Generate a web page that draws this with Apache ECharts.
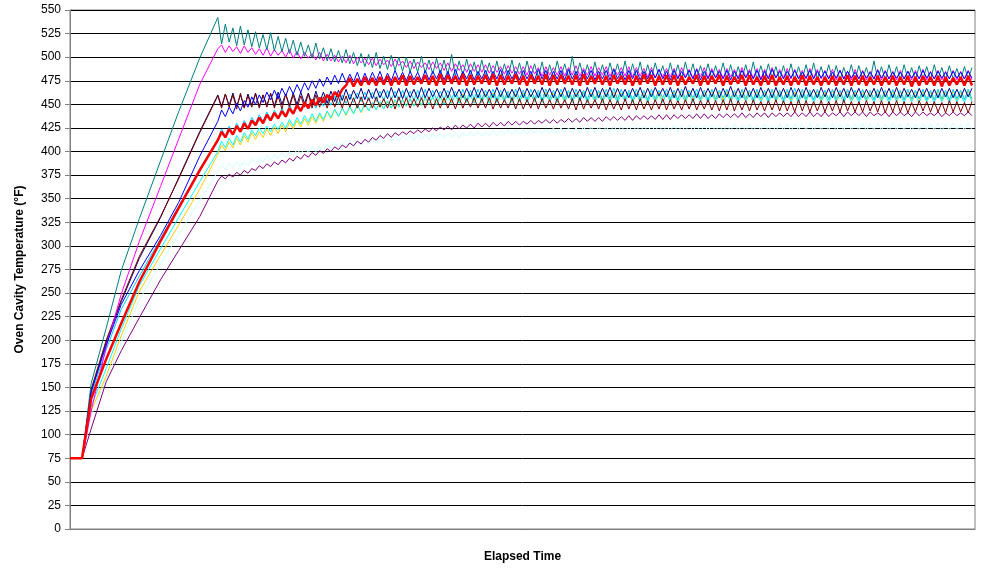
<html>
<head>
    <meta charset="UTF-8">
    <title>Oven Cavity Temperature</title>
    <style>
        body { margin: 0; background: #fff; }
    </style>
    <script src="https://cdn.jsdelivr.net/npm/echarts@6/dist/echarts.min.js"></script>
</head>
<body>
<div id="main" style="width: 981px;height:569px;"></div>
<script>
// time base: rise readings, then the cycling part read every half cycle
var riseTime = [0, 4, 7, 12, 17, 23, 30, 36, 43];
var cycleStart = 49;
var cycleStep = 1.25;

// preheat ramp (deg F) for each curve
var riseTeal     = [75, 75, 154, 213, 274, 329, 390, 442, 499];
var riseMagenta  = [75, 75, 125, 193, 249, 305, 363, 413, 471];
var riseMaroon   = [75, 75, 148, 200, 243, 289, 331, 371, 420];
var riseNavy     = [75, 75, 146, 198, 241, 287, 330, 372, 421];
var riseBlue     = [75, 75, 145, 195, 238, 274, 311, 346, 395];
var riseSky      = [75, 75, 142, 190, 233, 268, 308, 342, 382];
var riseRed      = [75, 75, 138, 180, 218, 262, 305, 340, 380];
var riseCyan     = [75, 75, 130, 170, 212, 258, 297, 330, 368];
var riseGold     = [75, 75, 125, 162, 205, 252, 290, 322, 360];
var riseLtCyan   = [75, 75, 120, 158, 198, 243, 281, 312, 348];
var risePurple   = [75, 75, 106, 156, 189, 224, 264, 295, 331];

// thermostat cycling after the ramp
var cycTeal = [
 542,514,535,516,531,512,533,513,529,511, 527,510,524,508,526,507,522,506,520,504,
 518,502,516,501,513,499,515,498,510,496, 509,495,507,494,508,493,505,491,504,490,
 503,489,505,488,501,487,502,486,500,485, 500,484,498,484,501,483,497,482,499,482,
 497,481,503,480,496,481,498,480,495,479, 497,480,494,479,496,478,493,480,497,479,
 494,478,496,479,493,478,495,477,492,478, 496,479,493,478,501,479,494,478,492,477,
 495,478,492,477,494,479,493,478,496,477, 493,478,495,477,492,478,494,479,491,477,
 494,478,492,477,495,478,493,477,491,478, 493,477,491,478,494,477,492,476,490,477,
 492,477,495,476,491,477,493,478,490,476, 491,477,493,476,490,477,492,476,494,477,
 490,476,492,477,491,476,489,477,492,476, 491,477,489,476,496,477,490,476,492,477,
 490,476,492,477,489,476,491,477,490,476, 492,477,489,476,491,477,488,476,490,477,
 489];
var cycMagenta = [
 509,513,505,512,506,511,504,512,505,510, 503,509,502,510,501,508,502,507,500,508,
 499,506,498,505,499,504,497,505,496,503, 496,502,495,501,494,502,493,500,494,499,
 492,499,491,498,492,497,490,498,491,496, 489,496,488,495,489,494,487,495,488,494,
 486,494,485,493,486,492,484,493,485,492, 484,492,483,491,484,490,482,491,483,490,
 482,490,481,491,482,489,480,490,481,489, 481,490,480,489,481,491,480,488,481,490,
 480,489,481,490,480,488,481,489,480,490, 479,489,480,488,479,489,478,487,479,488,
 479,488,478,489,479,487,478,488,479,489, 478,488,479,487,478,488,479,487,478,489,
 479,487,478,488,477,487,478,489,478,487, 478,488,477,487,478,486,477,488,478,487,
 477,486,478,487,476,486,477,485,476,487, 477,486,476,485,477,487,476,486,477,485,
 476,486,477,485,476,486,477,487,476,485, 477,486,476,485,477,486,476,485,477,486,
 476];
var cycMaroon = [
 459,446,461,447,460,445,462,446,459,447, 461,446,460,447,462,446,459,445,461,447,
 460,446,459,447,461,446,460,447,458,446, 459,447,458,446,459,447,457,446,458,447,
 457,446,458,447,456,446,457,445,458,446, 457,446,456,447,457,446,458,445,456,446,
 457,446,456,445,457,446,456,447,457,446, 456,446,457,445,456,446,455,446,457,445,
 456,445,455,446,457,445,456,446,455,445, 456,446,455,445,456,444,457,445,455,446,
 455,445,456,444,455,445,454,444,456,445, 455,444,456,445,454,444,455,445,456,444,
 455,445,454,444,455,445,456,444,454,445, 455,444,454,443,455,444,456,443,454,444,
 454,443,455,444,453,443,454,444,455,443, 454,443,453,442,455,443,454,442,453,443,
 454,442,453,443,454,442,455,443,453,442, 453,442,454,443,453,442,454,441,453,442,
 454,442,453,441,452,442,454,443,453,442, 453,442,452,441,454,442,453,442,452,441,
 453];
var cycNavy = [
 460,448,461,449,462,448,460,447,461,449, 462,448,460,449,461,448,463,450,461,449,
 462,450,463,451,462,450,464,452,463,451, 464,453,465,454,466,455,465,456,467,455,
 466,456,467,457,466,456,468,457,467,456, 467,457,466,456,468,457,467,458,466,457,
 467,457,468,458,466,457,467,458,468,457, 467,458,466,457,468,458,467,457,466,458,
 468,457,467,458,466,457,468,458,467,457, 467,458,468,457,467,458,466,457,468,458,
 468,457,467,458,468,457,467,458,466,457, 467,458,468,457,467,458,468,459,467,458,
 468,457,467,458,469,458,467,457,468,458, 467,458,468,457,467,458,469,458,467,457,
 468,458,467,457,468,458,467,457,468,458, 467,457,468,458,467,457,468,458,466,457,
 468,458,467,457,468,458,467,457,468,458, 467,457,466,458,467,457,468,458,467,457,
 468,457,467,458,466,457,467,458,467,457, 466,457,467,458,467,457,466,457,467,458,
 467];
var cycBlue = [
 432,444,437,447,440,451,443,454,447,458, 450,460,452,463,455,465,456,467,459,469,
 461,471,463,473,465,475,467,477,469,479, 471,481,472,483,473,482,474,484,473,483,
 474,484,475,485,474,483,475,486,476,484, 475,485,476,484,475,486,476,485,477,486,
 476,485,475,487,476,485,477,486,476,485, 477,486,476,485,477,487,476,486,477,485,
 476,486,477,485,476,487,477,486,476,485, 477,486,476,487,477,485,476,486,477,486,
 476,485,477,486,476,487,477,485,476,486, 477,486,476,485,477,486,478,487,477,485,
 476,486,477,485,478,486,477,487,476,485, 477,486,478,485,477,486,476,485,477,486,
 478,485,477,486,476,485,477,487,478,485, 477,485,478,486,477,484,478,486,477,485,
 478,485,477,484,478,486,477,485,478,484, 477,485,478,484,477,486,478,485,477,484,
 478,484,477,485,478,484,477,486,478,484, 477,485,478,484,477,485,478,484,477,485,
 478];
var cycSky = [
 413,424,416,427,419,430,422,433,425,436, 430,439,432,442,434,444,436,446,438,449,
 441,450,443,452,445,454,446,456,448,458, 449,459,450,460,451,461,452,462,453,463,
 454,463,453,464,454,465,455,464,454,465, 455,464,454,465,455,466,454,465,455,464,
 455,465,456,464,455,466,454,465,456,466, 455,465,456,466,455,465,456,464,455,466,
 456,465,455,466,456,465,455,466,456,465, 455,466,456,465,455,466,456,465,455,466,
 456,465,455,466,456,467,455,466,456,465, 455,466,456,465,455,466,456,465,457,466,
 456,465,455,466,456,465,457,466,456,465, 455,466,456,465,457,466,456,465,455,466,
 456,465,455,466,456,465,455,466,456,465, 455,466,456,467,455,466,456,465,455,466,
 456,465,455,466,456,465,455,466,456,465, 455,466,456,465,455,466,456,465,455,466,
 456,465,455,466,456,465,456,466,455,465, 455,466,456,465,455,466,456,465,455,466,
 456];
var cycRed = [
 412,421,415,424,418,427,421,430,424,433, 428,436,430,439,433,441,435,443,437,446,
 440,449,443,452,446,455,449,457,452,460, 455,463,458,466,470,478,469,477,470,479,
 471,478,470,479,471,480,470,479,471,481, 470,480,471,479,472,481,471,480,470,482,
 471,481,472,480,471,482,470,481,471,480, 472,481,471,482,470,481,471,480,472,482,
 471,480,470,481,472,480,471,482,470,481, 471,481,472,480,471,481,470,482,471,480,
 472,481,471,480,470,481,472,480,471,481, 470,480,471,482,472,481,470,480,471,481,
 471,481,470,480,471,479,472,481,470,480, 471,480,472,481,470,480,471,479,472,481,
 470,481,471,479,470,480,471,481,470,479, 471,480,470,479,471,481,470,480,471,479,
 470,479,471,480,470,479,471,481,470,480, 471,480,470,479,471,480,470,479,471,480,
 470,479,471,480,469,479,470,480,471,479, 470,480,469,479,470,478,471,479,470,480,
 470];
var cycCyan = [
 400,411,404,414,407,417,410,420,413,423, 417,425,419,427,421,429,423,431,425,434,
 427,436,429,438,431,440,432,441,434,443, 436,445,437,446,439,448,440,449,442,451,
 443,452,444,453,445,454,446,455,447,455, 448,456,448,457,449,457,450,458,449,458,
 450,459,451,460,451,459,452,460,451,461, 452,460,451,461,452,460,453,461,452,460,
 453,461,452,460,453,462,452,461,453,460, 452,461,453,460,452,461,453,462,452,461,
 453,460,452,461,453,460,452,461,453,462, 452,461,453,460,452,461,453,460,452,461,
 453,461,452,460,453,461,452,462,453,460, 452,461,453,460,452,461,453,460,452,461,
 453,460,452,461,453,460,452,461,453,460, 452,461,453,460,452,461,453,462,452,461,
 453,460,452,461,453,460,452,461,453,460, 452,461,453,460,452,461,453,460,452,461,
 453,460,452,461,453,460,452,461,453,460, 452,461,453,460,452,461,453,460,452,461,
 453];
var cycGold = [
 397,407,401,410,404,414,407,417,410,420, 413,421,415,424,417,426,419,428,421,431,
 424,433,426,435,428,437,430,439,432,442, 435,444,437,446,438,447,440,449,441,450,
 443,451,444,452,445,453,446,454,447,455, 448,456,448,457,449,458,450,457,450,459,
 451,460,452,459,452,461,453,460,452,461, 453,461,452,462,453,461,454,462,453,461,
 453,462,454,461,453,462,454,463,453,462, 454,462,453,463,454,462,454,463,453,462,
 454,463,453,462,454,463,455,462,454,463, 453,462,454,463,455,462,454,463,453,462,
 454,463,455,464,454,463,455,462,454,463, 455,464,454,463,455,464,454,463,455,464,
 454,463,455,464,454,463,455,464,454,463, 455,464,454,463,455,464,454,463,455,464,
 454,463,455,464,454,463,455,464,454,463, 455,464,454,463,455,464,454,463,455,464,
 454,463,455,464,454,463,455,464,454,463, 455,464,454,463,455,464,454,463,455,464,
 454];
var cycLtCyan = [
 379,386,381,388,383,389,384,390,385,392, 388,394,389,396,391,397,392,399,394,400,
 396,402,398,403,399,405,400,406,402,408, 403,409,404,410,405,411,406,412,407,413,
 408,414,409,415,410,415,411,416,411,417, 412,417,412,418,413,418,413,419,414,419,
 414,419,415,420,415,420,416,421,416,421, 416,421,417,422,417,422,418,423,418,423,
 418,423,418,424,419,424,419,424,419,425, 419,425,420,425,420,425,420,426,420,426,
 420,426,421,426,421,427,421,427,421,427, 421,427,421,427,422,427,422,428,421,427,
 422,428,421,427,422,428,422,428,421,428, 422,428,422,428,421,428,422,429,422,428,
 422,429,422,428,423,429,422,428,422,429, 423,429,422,429,423,429,423,430,422,429,
 423,429,423,430,422,429,423,430,423,429, 423,430,422,429,423,430,423,429,422,430,
 423,429,423,430,422,429,423,430,423,429, 423,430,422,429,423,430,423,429,423,430,
 423];
var cycPurple = [
 369,374,371,376,373,378,375,380,377,382, 380,385,382,387,384,389,386,391,388,393,
 390,395,392,397,394,399,396,401,398,403, 400,405,402,407,404,409,406,411,408,413,
 410,415,412,417,414,419,415,420,417,421, 418,422,419,423,420,424,421,425,422,426,
 423,427,423,428,424,428,425,429,425,430, 426,430,426,431,427,431,427,432,428,432,
 428,432,429,433,429,433,430,434,430,434, 430,434,431,435,431,435,431,436,432,436,
 432,436,432,437,433,437,433,437,433,438, 433,438,434,438,434,438,434,439,434,439,
 434,439,435,439,435,439,435,440,435,440, 435,439,435,440,436,440,436,440,436,441,
 436,440,436,441,437,441,436,441,437,441, 437,441,437,442,437,441,437,442,437,441,
 437,442,437,441,438,442,437,442,438,442, 438,442,437,442,438,441,438,442,437,442,
 438,442,438,441,437,442,438,442,438,441, 438,442,437,441,438,442,438,441,438,442,
 438];

// draw order: first is at the bottom
var curveNames  = ['lt cyan', 'purple', 'gold', 'cyan', 'sky', 'navy', 'maroon', 'magenta', 'teal', 'blue', 'red'];
var curveColors = ['#CCFFFF', '#800080', '#FFCC00', '#00FFFF', '#00CCFF', '#000080', '#800000', '#FF00FF', '#008080', '#0000FF', '#FF0000'];
var curveRise   = [riseLtCyan, risePurple, riseGold, riseCyan, riseSky, riseNavy, riseMaroon, riseMagenta, riseTeal, riseBlue, riseRed];
var curveCycle  = [cycLtCyan, cycPurple, cycGold, cycCyan, cycSky, cycNavy, cycMaroon, cycMagenta, cycTeal, cycBlue, cycRed];

function buildData(rise, cyc) {
    var pts = [];
    rise.forEach(function (v, i) { pts.push([riseTime[i], v]); });
    cyc.forEach(function (v, k) { pts.push([cycleStart + k * cycleStep, v]); });
    return pts;
}

var series = curveNames.map(function (n, i) {
    return {
        name: n,
        type: 'line',
        showSymbol: false,
        symbol: 'none',
        color: curveColors[i],
        lineStyle: { color: curveColors[i], width: n == 'red' ? 2.5 : 1 },
        data: buildData(curveRise[i], curveCycle[i])
    };
});

var myChart = echarts.init(document.getElementById('main'));
var option = {
    animation: false,
    backgroundColor: '#fff',
    textStyle: { fontFamily: 'Liberation Sans, Arial, sans-serif' },
    grid: { left: 70, right: 6, top: 10, bottom: 40, show: true, borderColor: '#808080', borderWidth: 1 },
    xAxis: {
        type: 'value', min: 0, max: 300,
        name: 'Elapsed Time', nameLocation: 'middle', nameGap: 22,
        nameTextStyle: { fontWeight: 'bold', fontSize: 12, color: '#000' },
        axisLabel: { show: false },
        axisTick: { show: false },
        splitLine: { show: false },
        axisLine: { lineStyle: { color: '#808080' } }
    },
    yAxis: {
        type: 'value', min: 0, max: 550, interval: 25,
        name: 'Oven Cavity Temperature (°F)', nameLocation: 'middle', nameGap: 44,
        nameTextStyle: { fontWeight: 'bold', fontSize: 12, color: '#000' },
        axisLabel: { color: '#000', fontSize: 12, margin: 9 },
        axisTick: { show: true, length: 5, lineStyle: { color: '#808080' } },
        axisLine: { show: true, lineStyle: { color: '#808080' } },
        splitLine: { lineStyle: { color: '#000', width: 1 } }
    },
    series: series
};
myChart.setOption(option);
</script>
</body>
</html>
